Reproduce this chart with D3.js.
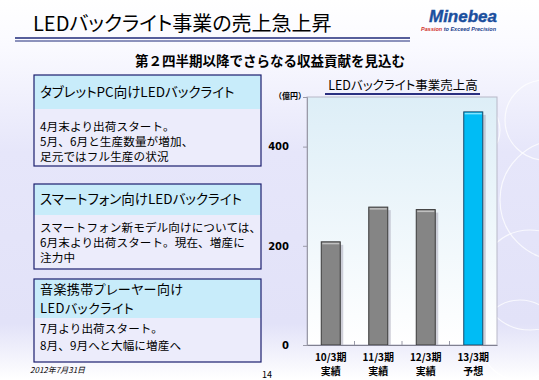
<!DOCTYPE html>
<html><head><meta charset="utf-8">
<script src="https://cdn.jsdelivr.net/npm/d3@7"></script>
<style>
html,body{margin:0;padding:0;background:#fff;}
svg{display:block;font-family:"Noto Sans CJK JP","Noto Sans",sans-serif;}
.p{font-feature-settings:"palt";}
</style></head>
<body>
<svg id="c" width="539" height="380"></svg>
<script>
const categories = ["10/3期", "11/3期", "12/3期", "13/3期"];
const subLabels = ["実績", "実績", "実績", "予想"];
const salesValues = [208, 278, 273, 470];
const yTicks = [0, 200, 400];
const yMax = 500;

const svg = d3.select("#c");
const defs = svg.append("defs");

// background gradient
const bg = defs.append("linearGradient").attr("id","bg").attr("x1",0).attr("y1",0).attr("x2",0).attr("y2",1);
bg.append("stop").attr("offset","0%").attr("stop-color","#ffffff");
bg.append("stop").attr("offset","12%").attr("stop-color","#fafaff");
bg.append("stop").attr("offset","40%").attr("stop-color","#e6e6fa");
bg.append("stop").attr("offset","85%").attr("stop-color","#e2e2f8");
bg.append("stop").attr("offset","100%").attr("stop-color","#ffffff");
svg.append("rect").attr("width",539).attr("height",380).attr("fill","url(#bg)");

// decorative circles on right
const deco = svg.append("g").attr("fill","none").attr("stroke","#ffffff").attr("stroke-opacity",0.75).attr("stroke-width",1.2);
[[545,120,40],[530,280,50],[560,200,60],[520,340,40],[470,130,30]].forEach(([cx,cy,r])=>{
  deco.append("circle").attr("cx",cx).attr("cy",cy).attr("r",r);
});

// header
svg.append("text").attr("class","p").attr("x",33).attr("y",31).attr("font-size",20).attr("fill","#000")
  .text("LEDバックライト事業の売上急上昇");
svg.append("line").attr("x1",15).attr("x2",410).attr("y1",38).attr("y2",38).attr("stroke","#1f2a7a").attr("stroke-width",1.5);
svg.append("line").attr("x1",15).attr("x2",410).attr("y1",41).attr("y2",41).attr("stroke","#1f2a7a").attr("stroke-width",1);

// logo
svg.append("text").attr("x",497).attr("y",22).attr("text-anchor","end").attr("font-size",17)
  .attr("font-weight","bold").attr("font-style","italic").attr("font-family","Liberation Sans, Arial")
  .attr("fill","#1b4f9e").attr("stroke","#1b4f9e").attr("stroke-width",0.4).text("Minebea");
svg.append("text").attr("x",496).attr("y",31).attr("text-anchor","end").attr("font-size",5.5)
  .attr("font-weight","bold").attr("font-style","italic").attr("font-family","Liberation Sans, Arial")
  .attr("fill","#1b3f8e").html('<tspan fill="#d0302a">Passion</tspan> to Exceed Precision');

// subtitle
svg.append("text").attr("x",270).attr("y",66).attr("text-anchor","middle").attr("font-size",13.5)
  .attr("font-weight","bold").attr("fill","#000").text("第２四半期以降でさらなる収益貢献を見込む");

// boxes (layout only; text content)
const boxes = [
  {y0:75, yh:109, y1:166, hb:[97], hs:13.5, bb:[131,146,161],
   head:["タブレットPC向けLEDバックライト"], body:["4月末より出荷スタート。","5月、6月と生産数量が増加、","足元ではフル生産の状況"]},
  {y0:184, yh:215, y1:269, hb:[204], hs:13.5, bb:[232,247,262],
   head:["スマートフォン向けLEDバックライト"], body:["スマートフォン新モデル向けについては、","6月末より出荷スタート。現在、増産に","注力中"]},
  {y0:279, yh:318, y1:362, hb:[294,312.5], hs:13, bb:[333,349.5],
   head:["音楽携帯プレーヤー向け","LEDバックライト"], body:["7月より出荷スタート。","8月、9月へと大幅に増産へ"]}
];
boxes.forEach(b=>{
  const g = svg.append("g");
  g.append("rect").attr("x",34).attr("y",b.y0).attr("width",227).attr("height",b.y1-b.y0).attr("fill","#ececfb");
  g.append("rect").attr("x",34).attr("y",b.y0).attr("width",227).attr("height",b.yh-b.y0).attr("fill","#c8ecfa");
  g.append("rect").attr("x",34).attr("y",b.y0).attr("width",227).attr("height",b.y1-b.y0)
    .attr("fill","none").attr("stroke","#1c1f6e").attr("stroke-width",1.2);
  b.head.forEach((t,i)=>{
    g.append("text").attr("class","p").attr("x",40).attr("y",b.hb[i]).attr("font-size",b.hs)
      .attr("letter-spacing", b.hs < 13.5 ? 0.4 : 0).attr("fill","#000").text(t);
  });
  b.body.forEach((t,i)=>{
    g.append("text").attr("x",40).attr("y",b.bb[i]).attr("font-size",11.6).attr("letter-spacing",0.1).attr("fill","#000").text(t);
  });
});

// footer
svg.append("text").attr("x",30).attr("y",373).attr("font-size",8).attr("font-style","italic").attr("fill","#000").text("2012年7月31日");
svg.append("text").attr("x",262).attr("y",378).attr("font-size",9).attr("fill","#000").text("14");

// chart
const pl = 307, pr = 497, pt = 97, pb = 345;
const x = d3.scaleBand().domain(categories).range([pl, pr]).paddingInner(0.6).paddingOuter(0.3);
const xb = d3.scaleBand().domain(categories).range([pl, pr]);
const y = d3.scaleLinear().domain([0, yMax]).range([pb, pt]);

const pg = defs.append("linearGradient").attr("id","pg").attr("x1",0).attr("y1",0).attr("x2",0).attr("y2",1);
pg.append("stop").attr("offset","0%").attr("stop-color","#ddeef7");
pg.append("stop").attr("offset","100%").attr("stop-color","#ffffff");
svg.append("rect").attr("x",pl).attr("y",pt).attr("width",pr-pl).attr("height",pb-pt)
  .attr("fill","url(#pg)").attr("stroke","#b8b8c8").attr("stroke-width",1);

// chart title
svg.append("text").attr("class","p").attr("x",403).attr("y",90).attr("text-anchor","middle").attr("font-size",12.5).attr("fill","#000")
  .text("LEDバックライト事業売上高");
svg.append("line").attr("x1",325).attr("x2",480).attr("y1",94).attr("y2",94).attr("stroke","#2a2f80").attr("stroke-width",2);
svg.append("text").attr("x",274).attr("y",99).attr("font-size",8).attr("font-weight","bold").attr("fill","#000").text("（億円）");

// bars: shadow, body
const barG = svg.append("g");
salesValues.forEach((v,i)=>{
  const c = categories[i];
  const bx = x(c), bw = x.bandwidth(), by = y(v), bh = pb - y(v);
  const isF = i === 3;
  barG.append("rect").attr("x",bx+3).attr("y",by+3).attr("width",bw).attr("height",bh-3).attr("fill","#b0b0c0").attr("opacity",0.6);
  barG.append("rect").attr("x",bx).attr("y",by).attr("width",bw).attr("height",bh)
    .attr("fill", isF ? "#00bcf5" : "#858585").attr("stroke", isF ? "#1a4a6a" : "#3a3a3a").attr("stroke-width",1);
  barG.append("rect").attr("x",bx+1).attr("y",by+1).attr("width",bw-2).attr("height",1.5)
    .attr("fill", isF ? "#7fe4ff" : "#c0c0c0");
});

// axes
const yAxis = d3.axisLeft(y).tickValues(yTicks).tickSize(4).tickPadding(14);
const ya = svg.append("g").attr("transform",`translate(${pl},0)`).call(yAxis);
ya.select(".domain").attr("stroke","#9a9aa8");
ya.selectAll(".tick line").attr("stroke","#9a9aa8");
ya.selectAll(".tick text").attr("font-size",10).attr("font-weight","bold").attr("fill","#000")
  .attr("font-family","DejaVu Sans, sans-serif");

const xAxis = d3.axisBottom(xb).tickSize(0).tickFormat("");
const xa = svg.append("g").attr("transform",`translate(0,${pb})`).call(xAxis);
xa.select(".domain").attr("stroke","#808090").attr("stroke-width",1.2);
xa.selectAll(".tick").remove();
categories.slice(1).forEach(c=>{
  xa.append("line").attr("x1",xb(c)).attr("x2",xb(c)).attr("y1",0).attr("y2",-4).attr("stroke","#9a9aa8");
});
categories.forEach((c,i)=>{
  const cx = xb(c) + xb.bandwidth()/2;
  svg.append("text").attr("x",cx).attr("y",pb+16).attr("text-anchor","middle").attr("font-size",10)
    .attr("font-weight","bold").attr("fill","#000").text(c);
  svg.append("text").attr("x",cx).attr("y",pb+30).attr("text-anchor","middle").attr("font-size",10)
    .attr("font-weight","bold").attr("fill","#000").text(subLabels[i]);
});
</script>
</body></html>
